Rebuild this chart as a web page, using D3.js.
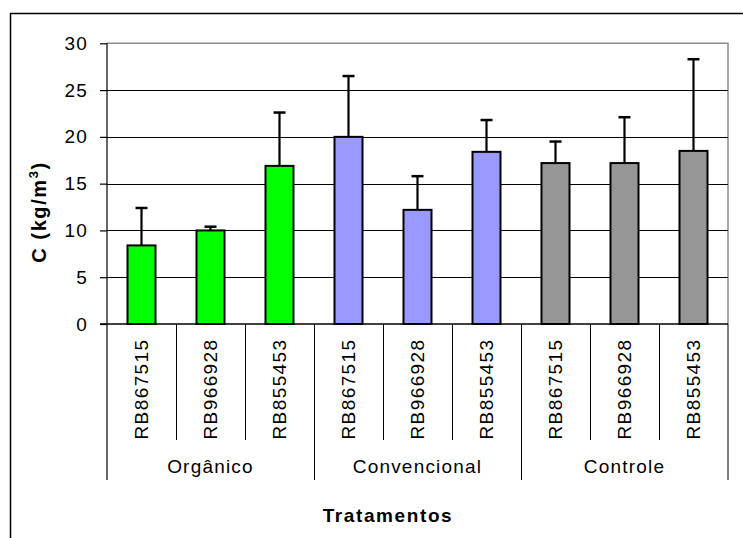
<!DOCTYPE html>
<html>
<head>
<meta charset="utf-8">
<script src="https://cdn.jsdelivr.net/npm/d3@7"></script>
<style>
  body { margin: 0; background: #fff; }
  text { font-family: Arial, "Liberation Sans", sans-serif; fill: #000; }
</style>
</head>
<body>
<svg width="743" height="538"></svg>
<script>
const groups = ['Orgânico', 'Convencional', 'Controle'];
const cultivars = ['RB867515', 'RB966928', 'RB855453'];
const means = [8.4, 10.0, 16.9, 20.0, 12.2, 18.4, 17.2, 17.2, 18.5];
const errs = [4.0, 0.4, 5.7, 6.5, 3.6, 3.4, 2.3, 4.9, 9.8];
const groupColors = ['#00ff00', '#9999ff', '#969696'];
const yTicks = [0, 5, 10, 15, 20, 25, 30];

function whenLoaded(){
    const svg = d3.select('svg');

    const data = [];
    groups.forEach((g, gi) => {
        cultivars.forEach((c, ci) => {
            const i = gi * cultivars.length + ci;
            data.push({id: i, group: g, gi: gi, cultivar: c, mean: means[i], err: errs[i]});
        });
    });

    const left = 107, right = 728, top = 43.3, bottom = 324;

    const xCat = d3.scaleBand()
        .domain(data.map(d => d.id))
        .range([left, right])
        .padding(0);

    const xBar = d3.scaleBand()
        .domain(data.map(d => d.id))
        .range([left, right])
        .paddingInner(0.594)
        .paddingOuter(0.297);

    const yScale = d3.scaleLinear()
        .domain([0, 30])
        .range([bottom, top]);

    // outer chart frame (cropped on right/bottom)
    svg.append('line').attr('x1', 10).attr('x2', 743).attr('y1', 13.5).attr('y2', 13.5)
        .attr('stroke', '#000').attr('stroke-width', 1.5);
    svg.append('line').attr('x1', 10.5).attr('x2', 10.5).attr('y1', 13).attr('y2', 538)
        .attr('stroke', '#000').attr('stroke-width', 1.5);

    // plot area border (gray)
    svg.append('path')
        .attr('d', `M${left},${top}H${right}V${bottom}`)
        .attr('fill', 'none').attr('stroke', '#8c8c8c').attr('stroke-width', 1.5);

    // gridlines
    svg.append('g')
        .selectAll('line').data(yTicks.filter(t => t > 0 && t < 30))
        .enter().append('line')
        .attr('x1', left).attr('x2', right)
        .attr('y1', d => Math.round(yScale(d)) + 0.5)
        .attr('y2', d => Math.round(yScale(d)) + 0.5)
        .attr('stroke', '#000').attr('stroke-width', 1);

    // y axis
    const yAxis = d3.axisLeft(yScale).tickValues(yTicks).tickSize(7).tickPadding(12);
    const yAxisG = svg.append('g')
        .attr('transform', `translate(${left},0)`)
        .call(yAxis);
    yAxisG.select('.domain').remove();
    yAxisG.selectAll('.tick line').attr('stroke', '#000').attr('stroke-width', 1.2);
    yAxisG.selectAll('.tick text')
        .attr('font-size', 19)
        .attr('letter-spacing', 1.2)
        .attr('font-family', 'Arial, "Liberation Sans", sans-serif')
        .attr('fill', '#333');

    // error bars
    const errG = svg.append('g');
    errG.selectAll('line.stem').data(data).enter().append('line')
        .attr('class', 'stem')
        .attr('x1', d => xCat(d.id) + xCat.bandwidth() / 2)
        .attr('x2', d => xCat(d.id) + xCat.bandwidth() / 2)
        .attr('y1', d => yScale(d.mean))
        .attr('y2', d => yScale(d.mean + d.err))
        .attr('stroke', '#000').attr('stroke-width', 2.2);
    errG.selectAll('line.cap').data(data).enter().append('line')
        .attr('class', 'cap')
        .attr('x1', d => xCat(d.id) + xCat.bandwidth() / 2 - 6)
        .attr('x2', d => xCat(d.id) + xCat.bandwidth() / 2 + 6)
        .attr('y1', d => yScale(d.mean + d.err))
        .attr('y2', d => yScale(d.mean + d.err))
        .attr('stroke', '#000').attr('stroke-width', 2.5);

    // bars
    svg.append('g')
        .selectAll('rect').data(data).enter().append('rect')
        .attr('x', d => xBar(d.id))
        .attr('width', xBar.bandwidth())
        .attr('y', d => yScale(d.mean))
        .attr('height', d => yScale(0) - yScale(d.mean))
        .attr('fill', d => groupColors[d.gi])
        .attr('stroke', '#000').attr('stroke-width', 2);

    // zero line + left axis line
    svg.append('line').attr('x1', left - 7).attr('x2', right)
        .attr('y1', bottom).attr('y2', bottom)
        .attr('stroke', '#000').attr('stroke-width', 1.5);
    svg.append('line').attr('x1', left).attr('x2', left)
        .attr('y1', top).attr('y2', 480)
        .attr('stroke', '#000').attr('stroke-width', 1.2);

    // category separators
    const sepG = svg.append('g');
    data.forEach(d => {
        if (d.id === 0) return;
        const x = Math.round(xCat(d.id)) + 0.5;
        const groupEdge = d.id % cultivars.length === 0;
        sepG.append('line')
            .attr('x1', x).attr('x2', x)
            .attr('y1', bottom).attr('y2', groupEdge ? 480 : 440)
            .attr('stroke', '#000').attr('stroke-width', 1);
    });
    sepG.append('line')
        .attr('x1', right).attr('x2', right)
        .attr('y1', bottom).attr('y2', 480)
        .attr('stroke', '#000').attr('stroke-width', 1);

    // cultivar labels
    svg.append('g')
        .selectAll('text').data(data).enter().append('text')
        .attr('transform', d => `translate(${xCat(d.id) + xCat.bandwidth() / 2 + 6},389) rotate(-90)`)
        .attr('text-anchor', 'middle')
        .attr('font-size', 19)
        .attr('letter-spacing', 1.4)
        .attr('fill', '#222')
        .text(d => d.cultivar);

    // group labels
    svg.append('g')
        .selectAll('text').data(groups).enter().append('text')
        .attr('x', (g, gi) => (xCat(gi * 3) + xCat(gi * 3 + 2) + xCat.bandwidth()) / 2)
        .attr('y', 473)
        .attr('text-anchor', 'middle')
        .attr('font-size', 19)
        .attr('letter-spacing', 1.2)
        .attr('fill', '#222')
        .text(d => d);

    // axis titles
    svg.append('text')
        .attr('x', 388).attr('y', 522)
        .attr('text-anchor', 'middle')
        .attr('font-size', 19)
        .attr('letter-spacing', 1.6)
        .attr('font-weight', 'bold')
        .text('Tratamentos');

    const yTitle = svg.append('text')
        .attr('transform', 'translate(46,212) rotate(-90)')
        .attr('text-anchor', 'middle')
        .attr('font-size', 20)
        .attr('letter-spacing', 1.6)
        .attr('font-weight', 'bold');
    yTitle.append('tspan').text('C (kg/m');
    yTitle.append('tspan').attr('font-size', 13).attr('dy', -8).text('3');
    yTitle.append('tspan').attr('dy', 8).text(')');
}

window.onload = whenLoaded;
</script>
</body>
</html>
